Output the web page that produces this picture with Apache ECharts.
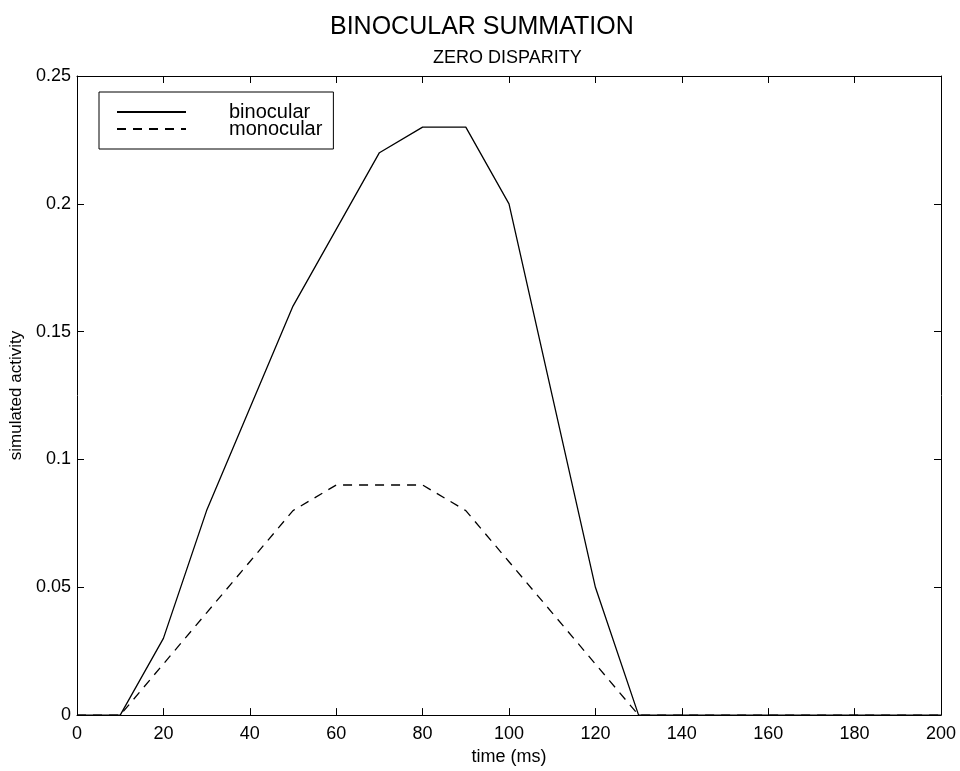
<!DOCTYPE html>
<html>
<head>
<meta charset="utf-8">
<script src="https://cdn.jsdelivr.net/npm/echarts@6/dist/echarts.min.js"></script>
<style>
html,body{margin:0;padding:0;background:#fff;}
#chart{width:960px;height:771px;}
</style>
</head>
<body>
<div id="chart"></div>
<script>
var titleText = 'BINOCULAR SUMMATION';
var subtitleText = 'ZERO DISPARITY';
var xName = 'time (ms)';
var yName = 'simulated activity';
var times = [0, 10, 20, 30, 40, 50, 60, 70, 80, 90, 100, 110, 120, 130, 140, 150, 160, 170, 180, 190, 200];
var binocular = [0, 0, 0.03, 0.08, 0.12, 0.16, 0.19, 0.22, 0.23, 0.23, 0.20, 0.125, 0.05, 0, 0, 0, 0, 0, 0, 0, 0];
var monocular = [0, 0, 0.02, 0.04, 0.06, 0.08, 0.09, 0.09, 0.09, 0.08, 0.06, 0.04, 0.02, 0, 0, 0, 0, 0, 0, 0, 0];
var seriesNames = ['binocular', 'monocular'];

function pairs(vals) { return times.map(function (t, i) { return [t, vals[i]]; }); }

var FONT = 'Liberation Sans';
var chart = echarts.init(document.getElementById('chart'), null, {renderer: 'canvas'});

function axisCommon(extra) {
  var base = {
    axisLine: {show: true, onZero: false, lineStyle: {color: '#000', width: 1}},
    axisTick: {show: true, inside: true, length: 7, lineStyle: {color: '#000', width: 1}},
    splitLine: {show: false},
    axisLabel: {color: '#000', fontFamily: FONT, fontSize: 18}
  };
  for (var k in extra) base[k] = extra[k];
  return base;
}

chart.setOption({
  animation: false,
  backgroundColor: '#fff',
  title: [
    {text: titleText, left: 325, top: 10, textStyle: {fontFamily: FONT, fontSize: 25, fontWeight: 'normal', color: '#000'}},
    {text: subtitleText, left: 428, top: 44, textStyle: {fontFamily: FONT, fontSize: 18, fontWeight: 'normal', color: '#000'}}
  ],
  grid: {left: 77, right: 19, top: 76, bottom: 53, containLabel: false},
  legend: {
    orient: 'vertical',
    left: 99, top: 92,
    backgroundColor: '#fff',
    borderColor: '#000', borderWidth: 1,
    padding: [10, 11, 10, 17],
    itemWidth: 69, itemHeight: 17, itemGap: -3,
    data: seriesNames,
    itemStyle: {opacity: 0},
    textStyle: {fontFamily: FONT, fontSize: 20, color: '#000', padding: [0, 0, 0, 38]}
  },
  xAxis: [
    axisCommon({type: 'value', position: 'bottom', min: 0, max: 200, interval: 20,
      name: xName, nameLocation: 'middle', nameGap: 31,
      nameTextStyle: {fontFamily: FONT, fontSize: 18, color: '#000'},
      axisLabel: {color: '#000', fontFamily: FONT, fontSize: 18, margin: 10}}),
    axisCommon({type: 'value', position: 'top', min: 0, max: 200, interval: 20,
      axisLabel: {show: false}})
  ],
  yAxis: [
    axisCommon({type: 'value', position: 'left', min: 0, max: 0.25, interval: 0.05,
      name: yName, nameLocation: 'middle', nameGap: 52,
      nameTextStyle: {fontFamily: FONT, fontSize: 17, color: '#000'},
      axisLabel: {color: '#000', fontFamily: FONT, fontSize: 18, margin: 6}}),
    axisCommon({type: 'value', position: 'right', min: 0, max: 0.25, interval: 0.05,
      axisLabel: {show: false}})
  ],
  series: [
    {name: seriesNames[0], type: 'line', data: pairs(binocular), symbol: 'none',
     lineStyle: {color: '#000', width: 1.3, type: 'solid'}, itemStyle: {color: '#000'}},
    {name: seriesNames[1], type: 'line', data: pairs(monocular), symbol: 'none',
     lineStyle: {color: '#000', width: 1.3, type: [9, 7]}, itemStyle: {color: '#000'}}
  ]
});
</script>
</body>
</html>
